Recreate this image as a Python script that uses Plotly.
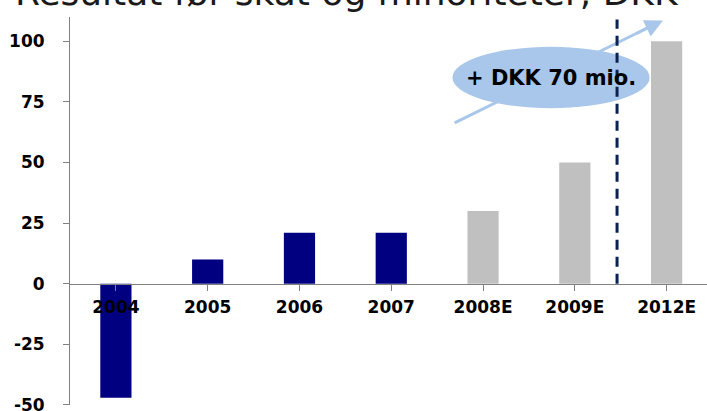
import plotly.graph_objects as go

categories = ["2004", "2005", "2006", "2007", "2008E", "2009E", "2012E"]
values = [-47, 10, 21, 21, 30, 50, 100]
is_estimate = [False, False, False, False, True, True, True]
y_ticks = [-50, -25, 0, 25, 50, 75, 100]
y_tick_labels = ["-50", "-25", "0", "25", "50", "75", "100"]
title_text = "Resultat før skat og minoriteter, DKK"
callout_text = "+ DKK 70 mio."

NAVY = "#000080"
GREY = "#c0c0c0"
BLUE = "#a9c7ea"
bar_colors = [GREY if e else NAVY for e in is_estimate]

fig = go.Figure()
fig.add_trace(go.Bar(
    x=list(range(len(categories))), y=values,
    marker=dict(color=bar_colors, line=dict(width=0)),
    width=0.34,
))

Y0, Y1 = -50, 110
fig.update_layout(
    width=707, height=411,
    margin=dict(l=70, r=0, t=17, b=6, autoexpand=False),
    paper_bgcolor="white", plot_bgcolor="white",
    showlegend=False,
    font=dict(family="DejaVu Sans", color="black"),
    xaxis=dict(
        range=[-0.5, 6.44],
        tickmode="array", tickvals=list(range(len(categories))), ticktext=categories,
        tickson="boundaries",
        ticks="outside", ticklen=6, tickcolor="#808080",
        showline=True, linecolor="#808080", linewidth=1,
        showgrid=False, zeroline=False,
        anchor="free", position=(0 - Y0) / (Y1 - Y0),
        tickfont=dict(family="DejaVu Sans", size=17, color="black", weight="bold"),
        ticklabelstandoff=2, automargin=False,
    ),
    yaxis=dict(
        range=[Y0 - 0.01, Y1],
        tickmode="array", tickvals=y_ticks, ticktext=y_tick_labels,
        ticks="outside", ticklen=6, tickcolor="#808080",
        showline=True, linecolor="#808080", linewidth=1,
        showgrid=False, zeroline=False,
        tickfont=dict(family="DejaVu Sans", size=17, color="black", weight="bold"),
        ticklabelstandoff=15,
        ticklabeloverflow="allow", automargin=False,
    ),
)

# arrow shaft (below ellipse)
tail = (3.69, 66.3)
tip = (5.96, 108.6)
fig.add_shape(type="line", xref="x", yref="y",
              x0=tail[0], y0=tail[1], x1=tip[0] - 0.12, y1=tip[1] - 2.2,
              line=dict(color=BLUE, width=3), layer="above")
# ellipse
fig.add_shape(type="circle", xref="x", yref="y",
              x0=3.667, x1=5.815, y0=72.4, y1=97.7,
              fillcolor=BLUE, line=dict(width=0), layer="above")
# dashed separator
fig.add_shape(type="line", xref="x", yref="y",
              x0=5.46, x1=5.46, y0=0, y1=109,
              line=dict(color="#0b2150", width=3, dash="10px,7px"), layer="above")
# arrowhead
fig.add_annotation(x=tip[0], y=tip[1], xref="x", yref="y",
                   ax=tip[0] - 0.3, ay=tip[1] - 5.6, axref="x", ayref="y",
                   text="", showarrow=True, arrowhead=2, arrowsize=1.2,
                   arrowwidth=3, arrowcolor=BLUE)
# callout text
fig.add_annotation(x=(3.667 + 5.815) / 2, y=85, xref="x", yref="y",
                   text=callout_text, showarrow=False,
                   font=dict(family="DejaVu Sans", size=21, color="black", weight="bold"))
# title (cropped at top)
fig.add_annotation(x=(347 - 70) / 637, y=1, xref="paper", yref="paper",
                   text=title_text, showarrow=False, xanchor="center", yanchor="middle",
                   yshift=25,
                   font=dict(family="DejaVu Sans", size=36, color="#1a1a1a"))

fig.write_html("out.html", config={"displayModeBar": False},
               post_script="document.body.style.margin='0';document.body.style.padding='0';")
